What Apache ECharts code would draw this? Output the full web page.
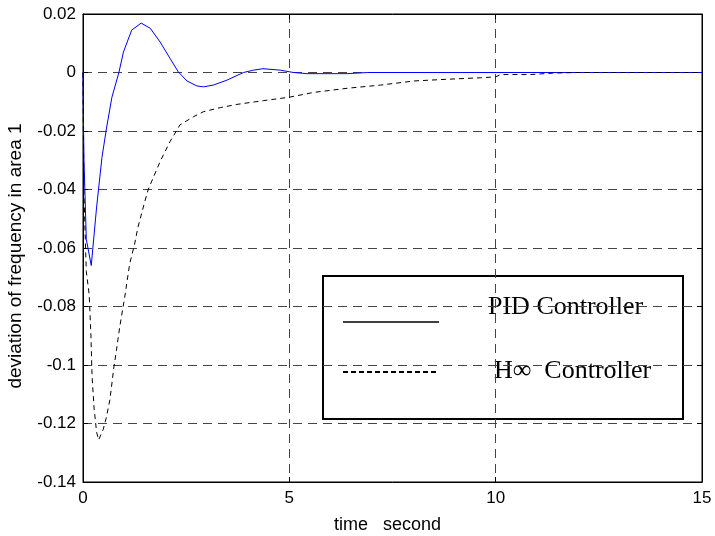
<!DOCTYPE html>
<html>
<head>
<meta charset="utf-8">
<script src="https://cdn.jsdelivr.net/npm/echarts@6/dist/echarts.min.js"></script>
<style>html,body{margin:0;padding:0;background:#fff;}#c{width:715px;height:536px;}</style>
</head>
<body>
<div id="c"></div>
<script>
// Data (time in seconds, deviation of frequency)
const pidData = [[0,0],[0.01,-0.015],[0.024,-0.03],[0.08,-0.057],[0.2,-0.066],[0.33,-0.046],[0.46,-0.029],[0.57,-0.019],[0.70,-0.0085],[0.87,0],[0.98,0.007],[1.18,0.0145],[1.41,0.0169],[1.63,0.0151],[1.87,0.0104],[2.11,0.0048],[2.31,0.0002],[2.52,-0.0029],[2.76,-0.0046],[2.92,-0.0049],[3.16,-0.0043],[3.49,-0.0026],[3.89,0],[4.13,0.0008],[4.36,0.0013],[4.78,0.0008],[5.1,0],[5.43,-0.0004],[6.4,-0.0004],[6.9,0],[15,0]];
const hinfData = [[0,0],[0.02,-0.04],[0.08,-0.068],[0.15,-0.076],[0.19,-0.089],[0.22,-0.104],[0.27,-0.115],[0.33,-0.123],[0.38,-0.1256],[0.49,-0.122],[0.57,-0.1177],[0.65,-0.112],[0.69,-0.1075],[0.75,-0.1006],[0.81,-0.095],[0.89,-0.087],[1.01,-0.0769],[1.13,-0.0655],[1.25,-0.0587],[1.33,-0.053],[1.5,-0.044],[1.58,-0.040],[1.87,-0.0304],[2.11,-0.0236],[2.35,-0.0179],[2.68,-0.0151],[2.92,-0.0134],[3.33,-0.012],[3.73,-0.0109],[4.38,-0.0096],[4.98,-0.0085],[5.59,-0.0068],[6.4,-0.0054],[7.21,-0.0043],[8.02,-0.0029],[8.83,-0.0023],[9.64,-0.0018],[10.0,-0.0015],[10.12,-0.0007],[10.85,-0.0007],[11.4,-0.0002],[12,0],[15,0]];
const seriesNames = ['PID Controller', 'H\u221e  Controller'];
const xTicks = [0, 5, 10, 15];
const yTicks = [0.02, 0, -0.02, -0.04, -0.06, -0.08, -0.1, -0.12, -0.14];
const xName = 'time   second';
const yName = 'deviation of frequency in area 1';

const chart = echarts.init(document.getElementById('c'), null, {renderer: 'canvas'});
const gridDash = {show: true, lineStyle: {color: '#444', width: 1, type: [9, 6]}};
const tickFont = {fontFamily: 'Liberation Sans', fontSize: 17, color: '#000'};
function fmt(v) {
  const r = Math.round(v * 1000) / 1000;
  return String(r);
}
chart.setOption({
  animation: false,
  backgroundColor: '#fff',
  grid: {left: 83, right: 13, top: 14, bottom: 54, show: true, borderColor: '#000', borderWidth: 1, containLabel: false, outerBoundsMode: 'none'},
  xAxis: [{
    type: 'value', min: xTicks[0], max: xTicks[xTicks.length - 1], interval: 5,
    name: xName, nameLocation: 'middle', nameGap: 34,
    nameTextStyle: {fontFamily: 'Liberation Sans', fontSize: 18, color: '#000', padding: [0, 10, 0, 0]},
    axisLine: {show: true, onZero: false, lineStyle: {color: '#000', width: 1}},
    axisTick: {show: true, inside: true, length: 5, lineStyle: {color: '#000'}},
    axisLabel: Object.assign({margin: 8, formatter: fmt}, tickFont),
    splitLine: gridDash
  }, {
    type: 'value', position: 'top', min: 0, max: 15, interval: 5,
    axisLine: {show: true, onZero: false, lineStyle: {color: '#000'}},
    axisTick: {show: true, inside: true, length: 5, lineStyle: {color: '#000'}},
    axisLabel: {show: false}, splitLine: {show: false}
  }],
  yAxis: [{
    type: 'value', min: yTicks[yTicks.length - 1], max: yTicks[0], interval: 0.02,
    name: yName, nameLocation: 'middle', nameGap: 58, nameRotate: 90,
    nameTextStyle: {fontFamily: 'Liberation Sans', fontSize: 19, color: '#000', padding: [0, 16, 0, 0]},
    axisLine: {show: true, onZero: false, lineStyle: {color: '#000', width: 1}},
    axisTick: {show: true, inside: true, length: 5, lineStyle: {color: '#000'}},
    axisLabel: Object.assign({margin: 7, formatter: fmt}, tickFont),
    splitLine: gridDash
  }, {
    type: 'value', position: 'right', min: -0.14, max: 0.02, interval: 0.02,
    axisLine: {show: true, onZero: false, lineStyle: {color: '#000'}},
    axisTick: {show: true, inside: true, length: 5, lineStyle: {color: '#000'}},
    axisLabel: {show: false}, splitLine: {show: false}
  }],
  series: [{
    name: seriesNames[0], type: 'line', data: pidData, showSymbol: false, symbol: 'none',
    lineStyle: {color: '#0000ff', width: 1}, z: 3
  }, {
    name: seriesNames[1], type: 'line', data: hinfData, showSymbol: false, symbol: 'none',
    lineStyle: {color: '#000', width: 1, type: [5, 4]}, z: 4
  }],
  graphic: [{
    type: 'group', left: 322, top: 275, z: 100,
    children: [
      {type: 'rect', shape: {x: 0, y: 0, width: 360, height: 143}, style: {fill: '#fff', stroke: '#000', lineWidth: 2}},
      {type: 'line', shape: {x1: 20, y1: 46, x2: 116, y2: 46}, style: {stroke: '#000', lineWidth: 1.5}},
      {type: 'line', shape: {x1: 20, y1: 96, x2: 116, y2: 96}, style: {stroke: '#000', lineWidth: 2, lineDash: [5, 3]}},
      {type: 'text', x: 165, y: 31, style: {text: seriesNames[0], font: '26px "Liberation Serif"', fill: '#000', verticalAlign: 'middle', align: 'left'}},
      {type: 'text', x: 171, y: 95, style: {text: seriesNames[1], font: '26px "Liberation Serif"', fill: '#000', verticalAlign: 'middle', align: 'left'}}
    ]
  }]
});
</script>
</body>
</html>
